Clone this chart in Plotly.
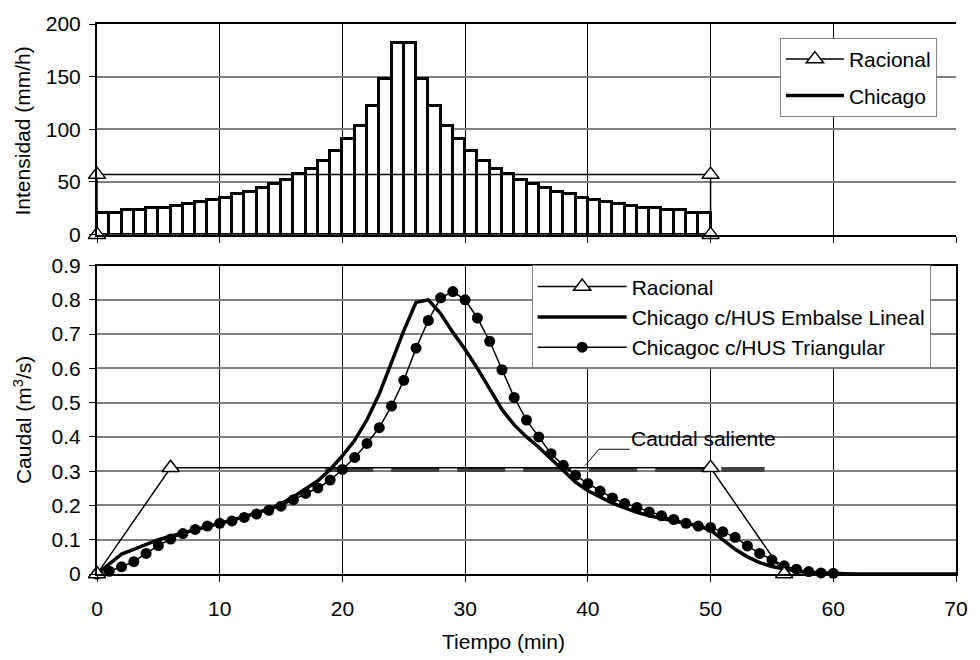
import plotly.graph_objects as go

# --- Hietograma (intensidad por bloques de 1 minuto) ---
t_bloque = list(range(50))  # inicio de cada bloque (min)
i_chicago = [21, 21, 23, 23, 25, 25, 27, 29, 31, 33, 34.5, 38.5, 40.5, 44, 48,
             51.5, 57.5, 62.5, 70, 79.5, 91, 103.5, 122.5, 148, 182,
             182, 148, 122.5, 103.5, 91, 79.5, 70, 62.5, 57.5, 51.5,
             48, 44, 40.5, 38.5, 34.5, 33, 31, 29, 27, 25, 25, 23, 23, 21, 21]
t_racional_i = [0, 0, 50, 50]
i_racional = [0, 57, 57, 0]

# --- Hidrogramas ---
t_racional_q = [0, 6, 50, 56]
q_racional = [0, 0.31, 0.31, 0]

t_lineal = list(range(71))
q_lineal = [0, 0.03, 0.058, 0.072, 0.085, 0.1, 0.11, 0.12, 0.13, 0.14,
            0.148, 0.157, 0.167, 0.178, 0.19, 0.205, 0.225, 0.247, 0.272, 0.305,
            0.345, 0.39, 0.45, 0.525, 0.615, 0.71, 0.793, 0.8, 0.76, 0.705,
            0.655, 0.6, 0.54, 0.48, 0.435, 0.40, 0.37, 0.335, 0.3, 0.268,
            0.243, 0.224, 0.207, 0.193, 0.18, 0.17, 0.162, 0.155, 0.148, 0.14,
            0.128, 0.1, 0.072, 0.05, 0.033, 0.022, 0.014, 0.008, 0.005, 0.003,
            0.002, 0.001, 0, 0, 0, 0, 0, 0, 0, 0, 0]

t_triang = list(range(61))
q_triang = [0, 0.008, 0.021, 0.036, 0.06, 0.083, 0.102, 0.118, 0.13, 0.14,
            0.148, 0.155, 0.165, 0.175, 0.186, 0.198, 0.217, 0.235, 0.251, 0.274,
            0.305, 0.34, 0.381, 0.427, 0.49, 0.565, 0.659, 0.74, 0.806, 0.824,
            0.80, 0.747, 0.679, 0.596, 0.515, 0.449, 0.40, 0.351, 0.317, 0.288,
            0.264, 0.242, 0.222, 0.206, 0.194, 0.181, 0.17, 0.159, 0.148, 0.14,
            0.136, 0.123, 0.107, 0.082, 0.06, 0.041, 0.024, 0.014, 0.007, 0.003,
            0.002]

t_saliente = [18.6, 54.4]
q_saliente = [0.305, 0.305]

FONT = "Liberation Sans, Arial, sans-serif"
FS = 21

fig = go.Figure()

# Hietograma Chicago (barras de contorno grueso)
fig.add_trace(go.Bar(
    x=t_bloque, y=i_chicago, width=1, offset=0,
    marker=dict(color="white", line=dict(color="black", width=3)),
    showlegend=False, xaxis="x", yaxis="y"))

fig.add_trace(go.Scatter(
    x=t_racional_i, y=i_racional, mode="lines+markers", name="Racional",
    line=dict(color="black", width=1.5),
    marker=dict(symbol="triangle-up", size=15, color="white",
                line=dict(color="black", width=1.5)),
    cliponaxis=False, legend="legend", legendgroup="a",
    xaxis="x", yaxis="y"))

# entrada de leyenda para el hietograma
fig.add_trace(go.Scatter(
    x=[None], y=[None], mode="lines", name="Chicago",
    line=dict(color="black", width=3.5),
    legend="legend", legendgroup="b", xaxis="x", yaxis="y"))

# Caudal saliente (discontinua)
fig.add_trace(go.Scatter(
    x=t_saliente, y=q_saliente, mode="lines",
    line=dict(color="#404040", width=5, dash="48px,18px"),
    showlegend=False, xaxis="x2", yaxis="y2"))

fig.add_trace(go.Scatter(
    x=t_lineal, y=q_lineal, mode="lines",
    name="Chicago c/HUS Embalse Lineal",
    line=dict(color="black", width=3.5),
    legend="legend2", legendrank=2, xaxis="x2", yaxis="y2"))

fig.add_trace(go.Scatter(
    x=t_triang, y=q_triang, mode="lines+markers",
    name="Chicagoc c/HUS Triangular",
    line=dict(color="black", width=1.5),
    marker=dict(symbol="circle", size=11, color="black"),
    cliponaxis=False, legend="legend2", legendrank=3,
    xaxis="x2", yaxis="y2"))

fig.add_trace(go.Scatter(
    x=t_racional_q, y=q_racional, mode="lines+markers", name="Racional",
    line=dict(color="black", width=1.5),
    marker=dict(symbol="triangle-up", size=15, color="white",
                line=dict(color="black", width=1.5)),
    cliponaxis=False, legend="legend2", legendrank=1,
    xaxis="x2", yaxis="y2"))

xcommon = dict(range=[0, 70], dtick=10, tick0=0, showgrid=True,
               gridcolor="black", gridwidth=1, zeroline=False,
               showline=True, linecolor="black", linewidth=2,
               ticks="outside", ticklen=6, tickcolor="black", tickwidth=1,
               tickfont=dict(family=FONT, size=FS, color="black"))
ycommon = dict(showgrid=True, gridcolor="#808080", gridwidth=1.5,
               zeroline=False, showline=True, linecolor="black", linewidth=2,
               ticks="outside", ticklen=6, tickcolor="black", tickwidth=1,
               tickfont=dict(family=FONT, size=FS, color="black"))

legend_style = dict(xanchor="left", yanchor="top", bgcolor="white",
                    bordercolor="#808080", borderwidth=1,
                    font=dict(family=FONT, size=FS, color="black"))

fig.update_layout(
    width=980, height=660,
    margin=dict(l=97, r=15, t=23, b=86),
    paper_bgcolor="white", plot_bgcolor="white",
    font=dict(family=FONT, size=FS, color="black"),
    bargap=0,
    xaxis=dict(xcommon, domain=[0, 1], anchor="y", showticklabels=False,
               mirror=True),
    yaxis=dict(ycommon, domain=[0.617, 1], anchor="x", range=[0, 200],
               dtick=50, ticklabelstandoff=4),
    xaxis2=dict(xcommon, domain=[0, 1], anchor="y2", mirror=True,
                ticklabelstandoff=9),
    yaxis2=dict(ycommon, domain=[0, 0.5608], anchor="x2", range=[0, 0.9],
                dtick=0.1, mirror=True, ticklabelstandoff=4),
    legend=dict(legend_style, x=0.795, y=0.9746, itemwidth=58,
                tracegroupgap=6),
    legend2=dict(legend_style, x=0.506, y=0.561, itemwidth=89,
                 tracegroupgap=0),
    annotations=[
        dict(text="Intensidad (mm/h)", xref="paper", yref="paper",
             x=-0.0864, y=0.806, textangle=-90, showarrow=False,
             xanchor="center", yanchor="middle"),
        dict(text="Caudal (m<sup>3</sup>/s)", xref="paper", yref="paper",
             x=-0.0864, y=0.2795, textangle=-90, showarrow=False,
             xanchor="center", yanchor="middle"),
        dict(text="Tiempo (min)", xref="paper", yref="paper",
             x=0.4735, y=-0.1234, showarrow=False,
             xanchor="center", yanchor="middle"),
        dict(text="Caudal saliente", xref="x2", yref="y2",
             x=49.4, y=0.396, showarrow=False,
             xanchor="center", yanchor="middle"),
    ],
    shapes=[
        dict(type="path", xref="x2", yref="y2",
             path="M 43.4 0.364 L 40.9 0.364 L 39.8 0.317",
             line=dict(color="black", width=1)),
    ],
)

fig.write_html("out.html")
